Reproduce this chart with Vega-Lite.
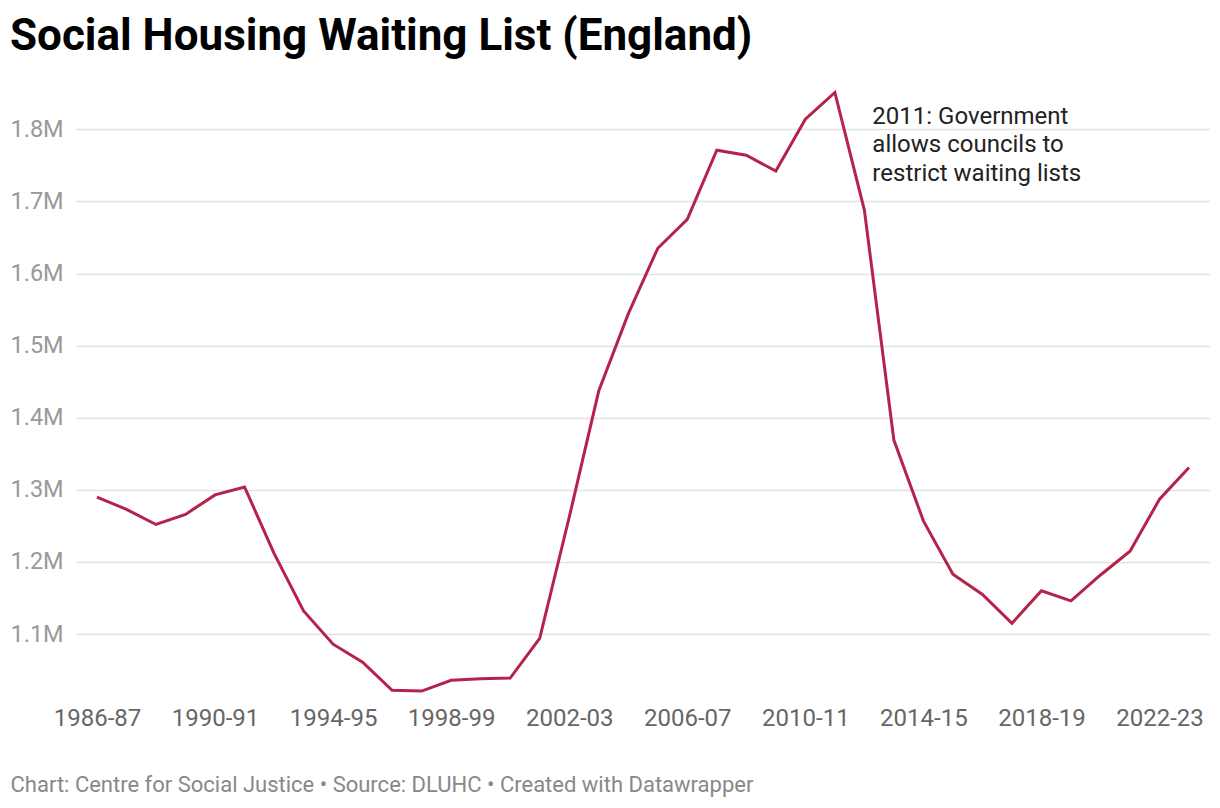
{
  "$schema": "https://vega.github.io/schema/vega-lite/v6.json",
  "autosize": {"type": "none"},
  "padding": {"left": 76, "top": 86, "right": 10, "bottom": 109},
  "width": 1134,
  "height": 613,
  "background": "white",
  "config": {
    "font": "Roboto",
    "view": {"stroke": null}
  },
  "title": {
    "text": "Social Housing Waiting List (England)",
    "anchor": "start",
    "frame": "group",
    "dx": -66,
    "fontSize": 44,
    "fontWeight": "bold",
    "font": "Roboto",
    "color": "#000000",
    "baseline": "alphabetic",
    "offset": 0,
    "dy": 8
  },
  "layer": [
    {
      "data": {
        "values": [
          {"year": "1986-87", "households": 1290000},
          {"year": "1987-88", "households": 1273000},
          {"year": "1988-89", "households": 1252000},
          {"year": "1989-90", "households": 1266000},
          {"year": "1990-91", "households": 1293000},
          {"year": "1991-92", "households": 1304000},
          {"year": "1992-93", "households": 1212000},
          {"year": "1993-94", "households": 1132000},
          {"year": "1994-95", "households": 1086000},
          {"year": "1995-96", "households": 1061000},
          {"year": "1996-97", "households": 1022000},
          {"year": "1997-98", "households": 1021000},
          {"year": "1998-99", "households": 1036000},
          {"year": "1999-00", "households": 1038000},
          {"year": "2000-01", "households": 1039000},
          {"year": "2001-02", "households": 1094000},
          {"year": "2002-03", "households": 1262000},
          {"year": "2003-04", "households": 1437000},
          {"year": "2004-05", "households": 1544000},
          {"year": "2005-06", "households": 1635000},
          {"year": "2006-07", "households": 1675000},
          {"year": "2007-08", "households": 1771000},
          {"year": "2008-09", "households": 1764000},
          {"year": "2009-10", "households": 1742000},
          {"year": "2010-11", "households": 1814000},
          {"year": "2011-12", "households": 1851000},
          {"year": "2012-13", "households": 1688000},
          {"year": "2013-14", "households": 1369000},
          {"year": "2014-15", "households": 1257000},
          {"year": "2015-16", "households": 1183000},
          {"year": "2016-17", "households": 1155000},
          {"year": "2017-18", "households": 1115000},
          {"year": "2018-19", "households": 1160000},
          {"year": "2019-20", "households": 1146000},
          {"year": "2020-21", "households": 1182000},
          {"year": "2021-22", "households": 1215000},
          {"year": "2022-23", "households": 1287000},
          {"year": "2023-24", "households": 1331000}
        ]
      },
      "mark": {"type": "line", "color": "#b5234a", "strokeWidth": 3, "strokeJoin": "miter"},
      "encoding": {
        "x": {
          "field": "year",
          "type": "ordinal",
          "sort": null,
          "scale": {"type": "point", "padding": 0.71},
          "axis": {
            "values": ["1986-87", "1990-91", "1994-95", "1998-99", "2002-03", "2006-07", "2010-11", "2014-15", "2018-19", "2022-23"],
            "labelAngle": 0,
            "labelFontSize": 24,
            "labelColor": "#666666",
            "labelFont": "Roboto",
            "labelPadding": 7,
            "ticks": false,
            "domain": false,
            "grid": false,
            "title": "Chart: Centre for Social Justice • Source: DLUHC • Created with Datawrapper",
            "titleFont": "Roboto",
            "titleFontSize": 22,
            "titleFontWeight": "normal",
            "titleColor": "#888888",
            "titleAnchor": "start",
            "titleAlign": "left",
            "titleBaseline": "middle",
            "titleX": -66,
            "titleY": 85
          }
        },
        "y": {
          "field": "households",
          "type": "quantitative",
          "scale": {"domain": [1010000, 1860000], "nice": false, "zero": false},
          "axis": {
            "values": [1100000, 1200000, 1300000, 1400000, 1500000, 1600000, 1700000, 1800000],
            "labelExpr": "format(datum.value / 1000000, '.1f') + 'M'",
            "labelFontSize": 23.5,
            "labelColor": "#999999",
            "labelFont": "Roboto",
            "labelAlign": "left",
            "labelPadding": 66,
            "ticks": false,
            "domain": false,
            "grid": true,
            "gridColor": "#e2e2e2",
            "gridWidth": 1.5,
            "title": null
          }
        }
      }
    },
    {
      "data": {
        "values": [
          {"year": "2012-13", "households": 1808000, "note": ["2011: Government", "allows councils to", "restrict waiting lists"]}
        ]
      },
      "mark": {"type": "text", "align": "left", "baseline": "alphabetic", "dx": 8, "fontSize": 24, "lineHeight": 28.5, "color": "#222222", "font": "Roboto"},
      "encoding": {
        "x": {"field": "year", "type": "ordinal"},
        "y": {"field": "households", "type": "quantitative"},
        "text": {"field": "note"}
      }
    }
  ]
}
